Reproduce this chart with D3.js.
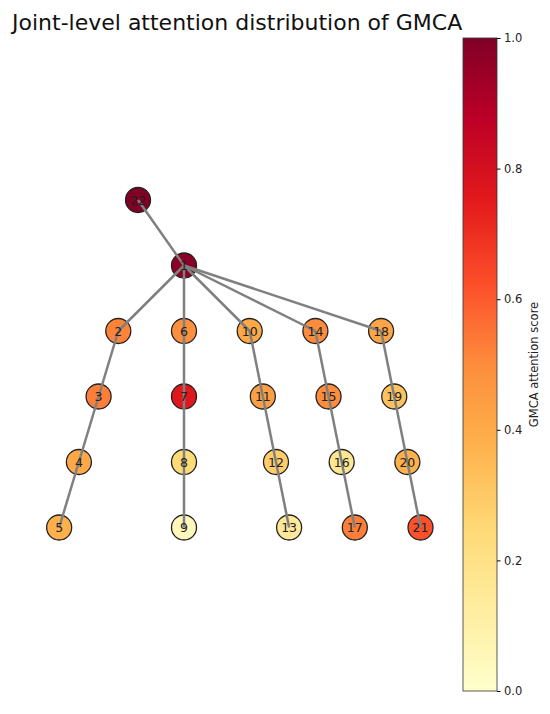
<!DOCTYPE html>
<html>
<head>
<meta charset="utf-8">
<script src="https://cdn.jsdelivr.net/npm/d3@7"></script>
<style>
  body { margin: 0; background: #fff; }
  svg { font-family: "DejaVu Sans", sans-serif; }
</style>
</head>
<body>
<svg id="chart" width="550" height="714"></svg>
<script>
// joint ids, layout coordinates (grid units) and attention scores
var joints = [1, 2, 3, 4, 5, 6, 7, 8, 9, 10, 11, 12, 13, 14, 15, 16, 17, 18, 19, 20, 21, 22];
var jointX = [0, -1, -1.3, -1.6, -1.9, 0, 0, 0, 0, 1, 1.2, 1.4, 1.6, 2, 2.2, 2.4, 2.6, 3, 3.2, 3.4, 3.6, -0.7];
var jointY = [0, -1, -2, -3, -4, -1, -2, -3, -4, -1, -2, -3, -4, -1, -2, -3, -4, -1, -2, -3, -4, 1];
var scores = [0.98, 0.52, 0.53, 0.41, 0.38, 0.49, 0.76, 0.24, 0.05, 0.41, 0.44, 0.29, 0.15, 0.5, 0.5, 0.17, 0.53, 0.42, 0.32, 0.38, 0.62, 1.0];

// skeleton bones (pairs of joint ids)
var bones = [[22, 1], [1, 2], [1, 6], [1, 10], [1, 14], [1, 18],
  [2, 3], [3, 4], [4, 5], [6, 7], [7, 8], [8, 9],
  [10, 11], [11, 12], [12, 13], [14, 15], [15, 16], [16, 17],
  [18, 19], [19, 20], [20, 21]];

var colorTicks = [0, 0.2, 0.4, 0.6, 0.8, 1.0];

var title = "Joint-level attention distribution of GMCA";
var cbarLabel = "GMCA attention score";

// YlOrRd with linear segments like matplotlib
var ylorrd = ["#ffffcc", "#ffeda0", "#fed976", "#feb24c", "#fd8d3c", "#fc4e2a", "#e31a1c", "#bd0026", "#800026"];
var color = d3.scaleLinear()
  .domain(d3.range(ylorrd.length).map(function (i) { return i / (ylorrd.length - 1); }))
  .range(ylorrd)
  .interpolate(d3.interpolateRgb);

var svg = d3.select("#chart");

var x = d3.scaleLinear().domain([-2, 4]).range([52.6, 446.8]);
var y = d3.scaleLinear().domain([-4, 1]).range([527.5, 200]);

var nodes = joints.map(function (id, i) {
  return { id: id, x: jointX[i], y: jointY[i], score: scores[i] };
});
var byId = {};
nodes.forEach(function (n) { byId[n.id] = n; });

svg.append("text")
  .attr("x", 12)
  .attr("y", 30)
  .attr("font-size", 22)
  .attr("fill", "#111")
  .text(title);

// nodes first, bones drawn on top (as in the reference)
svg.append("g").selectAll("circle")
  .data(nodes)
  .enter().append("circle")
  .attr("cx", function (d) { return x(d.x); })
  .attr("cy", function (d) { return y(d.y); })
  .attr("r", 12.5)
  .style("fill", function (d) { return color(d.score); })
  .style("stroke", "#222")
  .style("stroke-width", 1.3);

svg.append("g").selectAll("line")
  .data(bones)
  .enter().append("line")
  .attr("x1", function (d) { return x(byId[d[0]].x); })
  .attr("y1", function (d) { return y(byId[d[0]].y); })
  .attr("x2", function (d) { return x(byId[d[1]].x); })
  .attr("y2", function (d) { return y(byId[d[1]].y); })
  .style("stroke", "#808080")
  .style("stroke-width", 2.5);

svg.append("g").selectAll("text")
  .data(nodes)
  .enter().append("text")
  .attr("x", function (d) { return x(d.x); })
  .attr("y", function (d) { return y(d.y); })
  .attr("dy", "0.36em")
  .attr("text-anchor", "middle")
  .attr("font-size", 12.5)
  .attr("fill", "#222")
  .text(function (d) { return d.id; });

// colorbar
var cbX = 463, cbW = 34;
var cbScale = d3.scaleLinear().domain([0, 1]).range([691, 38]);

var defs = svg.append("defs");
var grad = defs.append("linearGradient")
  .attr("id", "cbgrad")
  .attr("x1", 0).attr("y1", 1).attr("x2", 0).attr("y2", 0);
grad.selectAll("stop")
  .data(ylorrd)
  .enter().append("stop")
  .attr("offset", function (d, i) { return i / (ylorrd.length - 1); })
  .attr("stop-color", function (d) { return d; });

svg.append("rect")
  .attr("x", cbX)
  .attr("y", cbScale(1))
  .attr("width", cbW)
  .attr("height", cbScale(0) - cbScale(1))
  .style("fill", "url(#cbgrad)")
  .style("stroke", "#333")
  .style("stroke-width", 0.8);

var cbAxis = svg.append("g")
  .attr("transform", "translate(" + (cbX + cbW) + ",0)")
  .call(d3.axisRight(cbScale).tickValues(colorTicks).tickSize(3.5).tickFormat(d3.format(".1f")));
cbAxis.select(".domain").remove();
cbAxis.selectAll("text")
  .attr("font-family", "DejaVu Sans, sans-serif")
  .attr("font-size", 11.5)
  .attr("fill", "#222")
  .attr("x", 7);

svg.append("text")
  .attr("transform", "translate(538," + ((cbScale(0) + cbScale(1)) / 2) + ") rotate(-90)")
  .attr("text-anchor", "middle")
  .attr("font-size", 11.5)
  .attr("fill", "#222")
  .text(cbarLabel);
</script>
</body>
</html>
